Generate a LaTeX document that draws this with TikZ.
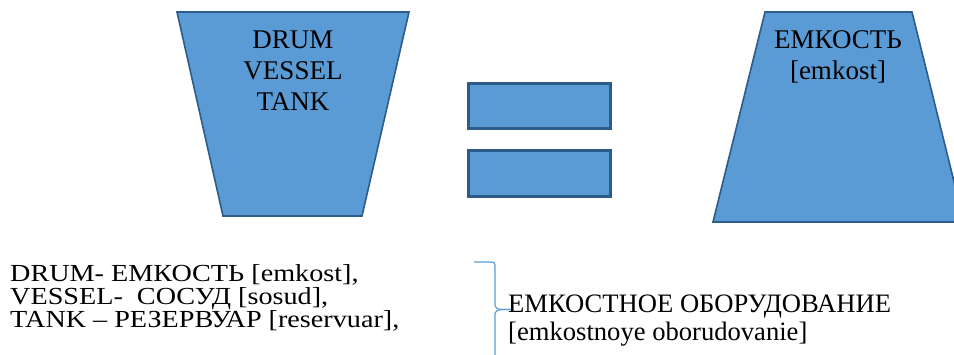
\documentclass[tikz,border=0pt]{standalone}
\usepackage{fontspec}
\setmainfont{Liberation Serif}
\newfontfamily\widefont{Liberation Serif}[FakeStretch=1.15]
\definecolor{shapefill}{HTML}{5B9BD5}
\definecolor{shapeline}{HTML}{2E5C8A}
\definecolor{bracecol}{HTML}{5B9BD5}
\begin{document}
\begin{tikzpicture}[x=1pt,y=-1pt,
  vesselshape/.style={fill=shapefill,draw=shapeline,line width=1.6pt,line join=miter},
  barshape/.style={fill=shapefill,draw=shapeline,line width=2.6pt},
  bigtxt/.style={font=\fontsize{27}{31}\selectfont,inner sep=0pt,anchor=base},
  lefttxt/.style={font=\widefont\fontsize{24.5}{28}\selectfont,inner sep=0pt,anchor=base west},
  righttxt/.style={font=\fontsize{26.6}{30}\selectfont,inner sep=0pt,anchor=base west},
  bracestyle/.style={draw=bracecol,line width=1.2pt}]
\useasboundingbox (0,0) rectangle (954,354);
\clip (0,0) rectangle (954,354);
% left trapezoid
\coordinate (l1) at (177,12);
\coordinate (l2) at (409,12);
\coordinate (l3) at (362,216);
\coordinate (l4) at (223,216);
\draw[vesselshape] (l1) -- (l2) -- (l3) -- (l4) -- cycle;
\node[bigtxt] (drum) at (293,48) {DRUM};
\node[bigtxt] (vessel) at (293,79) {VESSEL};
\node[bigtxt] (tank) at (293,110) {TANK};
% equals bars
\node[barshape,minimum width=142pt,minimum height=45pt,inner sep=0pt] (bar1) at (539.5,106) {};
\node[barshape,minimum width=142pt,minimum height=46pt,inner sep=0pt] (bar2) at (539.5,173.5) {};
% right trapezoid
\coordinate (r1) at (765,12);
\coordinate (r2) at (912,12);
\coordinate (r3) at (964,222);
\coordinate (r4) at (713,222);
\draw[vesselshape] (r1) -- (r2) -- (r3) -- (r4) -- cycle;
\node[bigtxt] (emk) at (838,48) {ЕМКОСТЬ};
\node[bigtxt] (emkl) at (838,79) {[emkost]};
% left text
\node[lefttxt] (t1) at (10,281) {DRUM- ЕМКОСТЬ [emkost],};
\node[lefttxt] (t2) at (10,304) {VESSEL-\ \ СОСУД [sosud],};
\node[lefttxt] (t3) at (10,327) {TANK – РЕЗЕРВУАР [reservuar],};
% brace
\coordinate (b0) at (474,262);
\coordinate (b1) at (489,262);
\coordinate (b2) at (495,269);
\coordinate (b3) at (495,302);
\coordinate (btip) at (513,309.5);
\coordinate (b4) at (495,317);
\coordinate (b5) at (495,358);
\draw[bracestyle] (b0) -- (b1) .. controls (495,262) .. (b2) -- (b3)
  .. controls (495,309.5) .. (btip);
\draw[bracestyle] (btip) .. controls (495,309.5) .. (b4) -- (b5);
% right text
\node[righttxt] (eo) at (508,312) {ЕМКОСТНОЕ ОБОРУДОВАНИЕ};
\node[righttxt] (eol) at (508,340) {[emkostnoye oborudovanie]};
\end{tikzpicture}
\end{document}
